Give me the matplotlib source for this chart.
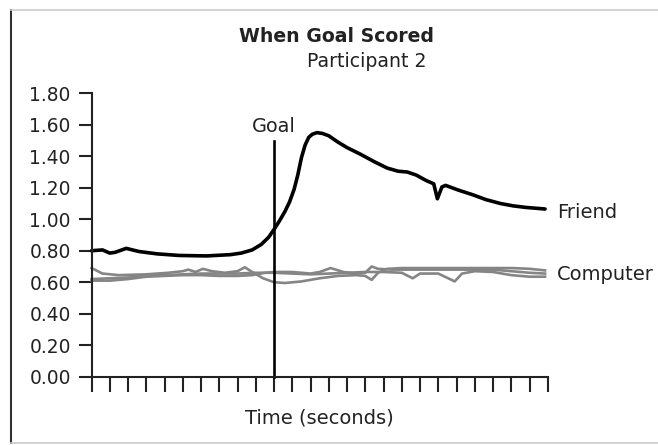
import numpy as np
import matplotlib
matplotlib.use("Agg")
import matplotlib.pyplot as plt
from matplotlib.lines import Line2D

# Datos (eje x en marcas de tiempo, gol en la marca 10)
friend_t = [0, 0.6, 1.0, 1.3, 1.9, 2.6, 3.6, 4.8, 6.3, 7.6, 8.2, 8.8, 9.3,
            9.7, 10.0, 10.3, 10.6, 10.85, 11.1, 11.3, 11.5, 11.7, 11.9, 12.1,
            12.35, 12.65, 13.0, 13.5, 14.0, 14.7, 15.5, 16.2, 16.8, 17.3, 17.8,
            18.35, 18.75, 18.95, 19.2, 19.4, 20.1, 20.9, 21.6, 22.4, 23.1,
            23.8, 24.85]
friend_v = [0.80, 0.805, 0.785, 0.79, 0.815, 0.795, 0.78, 0.77, 0.767, 0.775,
            0.785, 0.805, 0.84, 0.885, 0.935, 0.99, 1.05, 1.11, 1.19, 1.28,
            1.39, 1.47, 1.52, 1.54, 1.55, 1.545, 1.53, 1.49, 1.455, 1.415,
            1.365, 1.325, 1.305, 1.30, 1.28, 1.245, 1.225, 1.13, 1.205, 1.215,
            1.185, 1.155, 1.125, 1.10, 1.085, 1.075, 1.065]

comp1_t = [0, 0.6, 1.5, 3, 4.2, 5.0, 5.3, 5.7, 6.1, 6.6, 7.3, 8.0, 8.4, 8.8,
           9.4, 10.0, 10.6, 11.5, 12.5, 13.5, 14.5, 15.0, 15.35, 15.7, 16.2,
           17, 19, 21, 23, 24, 24.85]
comp1_v = [0.69, 0.655, 0.645, 0.65, 0.66, 0.67, 0.68, 0.665, 0.685, 0.67,
           0.66, 0.67, 0.695, 0.665, 0.625, 0.60, 0.595, 0.605, 0.625, 0.64,
           0.645, 0.64, 0.615, 0.66, 0.685, 0.69, 0.69, 0.69, 0.69, 0.685, 0.675]

comp2_t = [0, 1, 2, 3, 4, 5, 6, 7, 8, 8.8, 9.5, 10, 11, 12, 12.5, 13.1, 13.8,
           14.5, 15.0, 15.35, 15.7, 16.5, 17.3, 18, 20, 22, 23, 24, 24.85]
comp2_v = [0.61, 0.61, 0.62, 0.635, 0.64, 0.645, 0.645, 0.64, 0.64, 0.645,
           0.66, 0.665, 0.665, 0.655, 0.665, 0.69, 0.665, 0.655, 0.66, 0.70,
           0.685, 0.68, 0.68, 0.68, 0.68, 0.68, 0.67, 0.66, 0.655]

comp3_t = [0, 1, 2, 3, 4, 5, 6, 8, 9, 10, 11, 12, 13, 14, 15, 16, 17, 17.6,
           18, 19, 19.9, 20.3, 21, 22, 23, 24, 24.85]
comp3_v = [0.62, 0.625, 0.63, 0.64, 0.645, 0.65, 0.655, 0.655, 0.66, 0.66,
           0.655, 0.65, 0.655, 0.66, 0.665, 0.665, 0.66, 0.625, 0.655, 0.655,
           0.605, 0.655, 0.67, 0.665, 0.645, 0.635, 0.635]

goal_x = 10
goal_top = 1.50
y_ticks = [0.0, 0.2, 0.4, 0.6, 0.8, 1.0, 1.2, 1.4, 1.6, 1.8]
n_ticks = 26

ink = "#222222"
gris = "#858585"

fig = plt.figure(figsize=(6.58, 4.45), dpi=100)
ax = fig.add_axes([0.1391, 0.1535, 0.6934, 0.6369])

for t, v in [(comp3_t, comp3_v), (comp2_t, comp2_v), (comp1_t, comp1_v)]:
    ax.plot(t, v, color=gris, lw=1.9, clip_on=False, solid_joinstyle="round")
ax.plot(friend_t, friend_v, color="black", lw=2.6, clip_on=False,
        solid_capstyle="round", solid_joinstyle="round")
ax.plot([goal_x, goal_x], [0, goal_top], color="black", lw=1.9, clip_on=False)

ax.set_xlim(0, n_ticks - 1)
ax.set_ylim(0, 1.8)
ax.set_xticks(range(n_ticks))
ax.set_xticklabels([])
ax.set_yticks(y_ticks)
ax.set_yticklabels([f"{v:.2f}" for v in y_ticks], fontsize=13.4, color=ink)
ax.tick_params(axis="y", direction="out", length=9.6, width=1.5, pad=5.3,
               color=ink)
ax.tick_params(axis="x", direction="out", length=10.8, width=1.5, color=ink)
for s in ["top", "right"]:
    ax.spines[s].set_visible(False)
for s in ["left", "bottom"]:
    ax.spines[s].set_linewidth(1.5)
    ax.spines[s].set_color(ink)

ax.text(goal_x, 1.557, "Goal", ha="center", va="baseline", fontsize=13.9,
        color=ink)
ax.text(25.5, 1.01, "Friend", ha="left", va="baseline", fontsize=14,
        color=ink, clip_on=False)
ax.text(25.5, 0.615, "Computer", ha="left", va="baseline", fontsize=14,
        color=ink, clip_on=False)

fig.text(0.5117, 0.9063, "When Goal Scored", ha="center", va="baseline",
         fontsize=13.6, fontweight="bold", color=ink)
fig.text(0.5573, 0.8501, "Participant 2", ha="center", va="baseline",
         fontsize=13.6, color=ink)
fig.text(0.4848, 0.0488, "Time (seconds)", ha="center", va="baseline",
         fontsize=14, color=ink)

# marco del recuadro
fig.add_artist(Line2D([0.016, 0.016], [0.0045, 0.9775], color="#333333", lw=1.5))
fig.add_artist(Line2D([0.016, 1.0], [0.9775, 0.9775], color="#cccccc", lw=1.2))
fig.add_artist(Line2D([0.016, 1.0], [0.0045, 0.0045], color="#cccccc", lw=1.2))

fig.savefig("out.png", dpi=100)
